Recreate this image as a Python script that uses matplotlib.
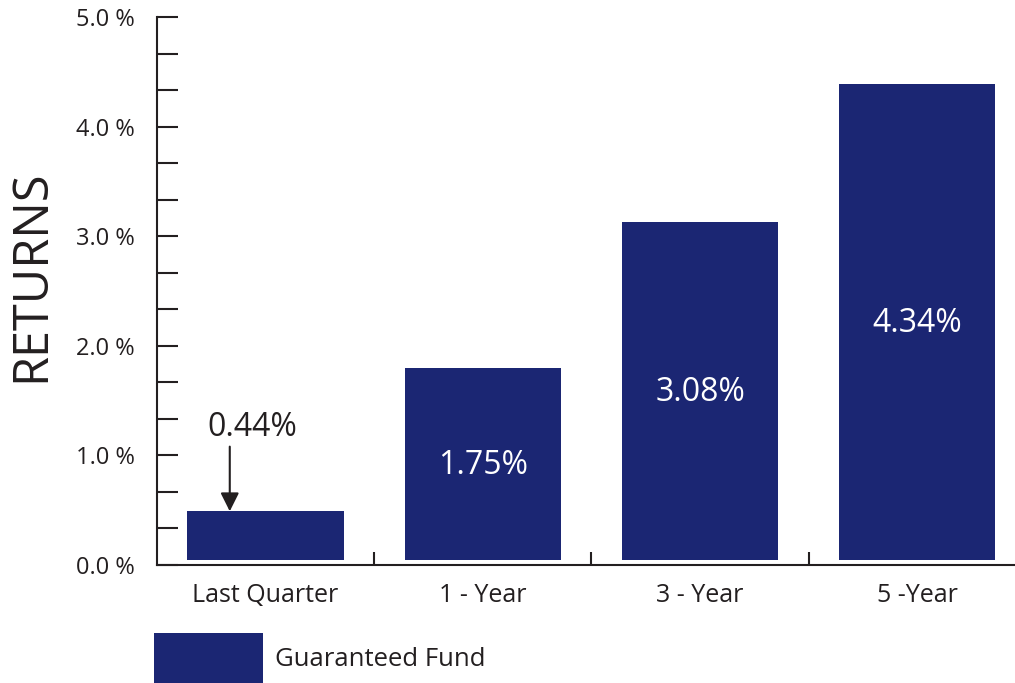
import matplotlib
matplotlib.use('Agg')
import matplotlib.pyplot as plt
from matplotlib.ticker import MultipleLocator, FixedLocator, FuncFormatter
from matplotlib.patches import Patch

plt.rcParams['font.family'] = ['Open Sans', 'DejaVu Sans']

# data
categories = ['Last Quarter', '1 - Year', '3 - Year', '5 -Year']
returns = [0.44, 1.75, 3.08, 4.34]
value_labels = ['0.44%', '1.75%', '3.08%', '4.34%']
series_name = 'Guaranteed Fund'

navy = '#1b2673'
ink = '#231f20'
base = 0.05  # bars sit a little above the axis line

fig = plt.figure(figsize=(10.15, 6.83), dpi=100)
ax = fig.add_axes([157 / 1015, 118 / 683, 1 - 157 / 1015, (565 - 17) / 683])

x = list(range(len(categories)))
ax.bar(x, returns, width=0.72, bottom=base, color=navy, zorder=2)

# labels inside the bars (white), the small one sits above with an arrow
for i, (v, lab) in enumerate(zip(returns, value_labels)):
    if i == 0:
        continue
    ax.text(i, base + v / 2 - 0.02, lab, color='white', fontsize=23,
            ha='center', va='center')

ax.text(-0.06, 1.25, value_labels[0], color=ink, fontsize=23,
        ha='center', va='center')
ax.annotate('', xy=(-0.165, base + returns[0]), xytext=(-0.165, 1.08),
            arrowprops=dict(arrowstyle='-|>', color=ink, lw=1.5,
                            mutation_scale=28, shrinkA=0, shrinkB=0))

ax.set_xlim(-0.5, 3.45)
ax.set_ylim(0, 5.0)

# spines
for side in ['top', 'right']:
    ax.spines[side].set_visible(False)
for side in ['left', 'bottom']:
    ax.spines[side].set_color(ink)
    ax.spines[side].set_linewidth(1.5)

# y ticks: labels every 1 %, marks every third
ax.yaxis.set_major_locator(MultipleLocator(1.0))
ax.yaxis.set_minor_locator(FixedLocator([k / 3 for k in range(16) if k % 3]))
ax.yaxis.set_major_formatter(FuncFormatter(lambda v, p: f'{v:.1f} %'))
ax.tick_params(axis='y', which='both', direction='in', length=15,
               width=1.5, color=ink, labelsize=17, labelcolor=ink, pad=16)

# x ticks: marks between categories, labels under the centres
ax.set_xticks(x)
ax.set_xticklabels(categories)
ax.set_xticks([0.5, 1.5, 2.5], minor=True)
ax.tick_params(axis='x', which='major', length=0, labelsize=18,
               labelcolor=ink, pad=13)
ax.tick_params(axis='x', which='minor', direction='in', length=9.5,
               width=1.5, color=ink)

fig.text(32 / 1015, 1 - 276 / 683, 'RETURNS', rotation=90, fontsize=35,
         color=ink, ha='center', va='center')

handle = Patch(facecolor=navy, edgecolor='none')
fig.legend([handle], [series_name], loc='lower left',
           bbox_to_anchor=(154 / 1015, 0), bbox_transform=fig.transFigure,
           frameon=False, borderpad=0, borderaxespad=0, fontsize=18.5,
           handlelength=4.25, handleheight=2.6, handletextpad=0.45,
           labelcolor=ink)

fig.savefig('out.png', dpi=100)
